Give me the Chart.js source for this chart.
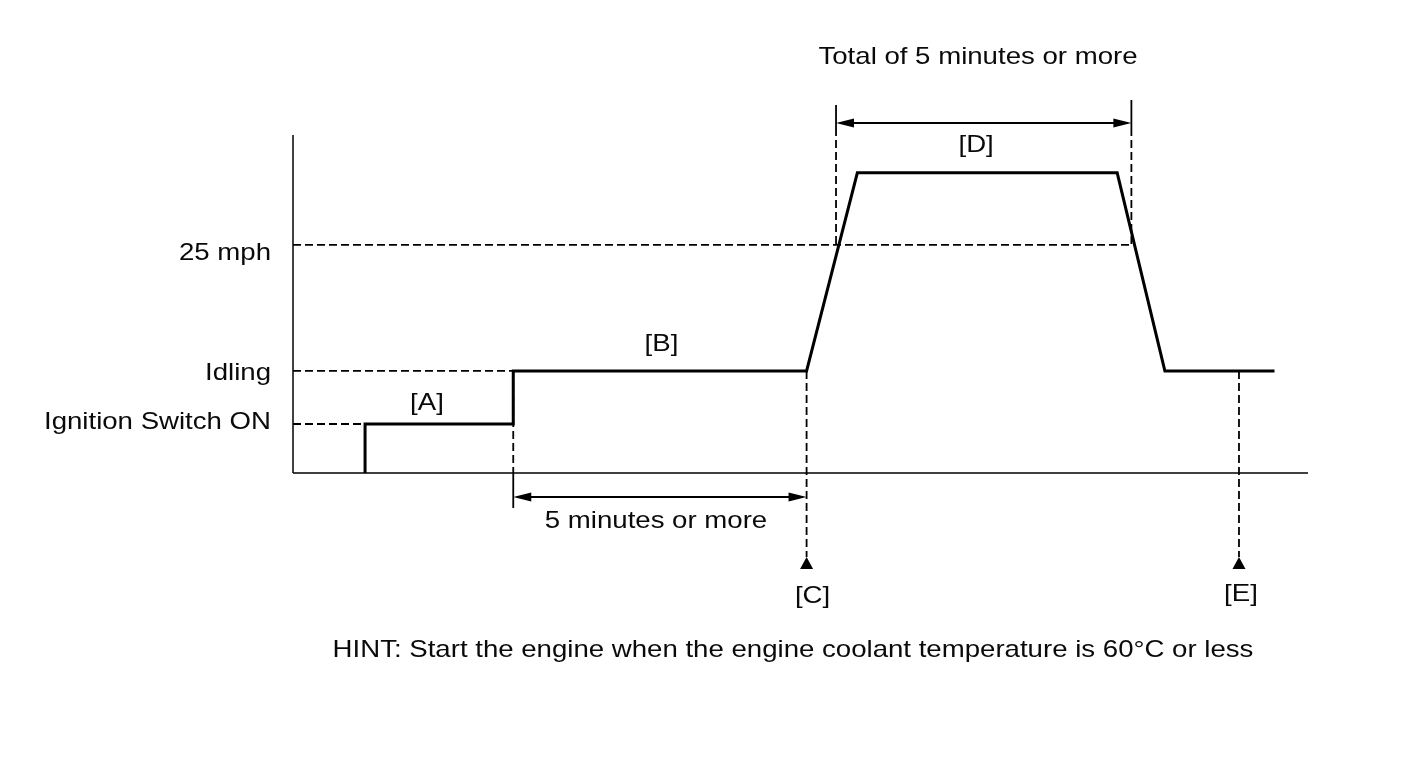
<!DOCTYPE html>
<html>
<head>
<meta charset="utf-8">
<title>Drive pattern</title>
<script src="https://cdn.jsdelivr.net/npm/chart.js@4"></script>
<style>
  html, body { margin: 0; padding: 0; background: #fff; }
  #wrap { width: 1424px; height: 759px; }
</style>
</head>
<body>
<div id="wrap"><canvas id="chart" width="1424" height="759"></canvas></div>
<script>
// Drive pattern diagram: vehicle speed level over time (schematic, no numeric ticks)

// profile of the drive (time units 0-100, level units 0-100)
const profileTime = [7.1, 7.1, 21.7, 21.7, 50.6, 55.6, 81.2, 85.9, 96.7];
const profileLevel = [0, 14.5, 14.5, 30.2, 30.2, 88.8, 88.8, 30.2, 30.2];

// y-axis reference levels and where their dashed guide stops
const levelNames = ["Ignition Switch ON", "Idling", "25 mph"];
const levelValues = [14.5, 30.2, 67.5];
const levelGuideEnd = [7.1, 21.7, 82.6];

// time markers
const idleStart = 21.7;     // start of [B] / 5 minutes span
const checkC = 50.6;        // [C]
const checkE = 93.2;        // [E]
const spanD = [53.5, 82.6]; // [D], total of 5 minutes or more

const phaseLabels = ["[A]", "[B]", "[D]"];
const titleText = "Total of 5 minutes or more";
const spanBText = "5 minutes or more";
const hintText = "HINT: Start the engine when the engine coolant temperature is 60\u00B0C or less";

const FONT = '24px "Liberation Sans", Arial, sans-serif';
const STRETCH = 1.15; // reference lettering is wider than Arial

function arrowHead(ctx, x, y, dir) {
  ctx.beginPath();
  ctx.moveTo(x, y);
  ctx.lineTo(x - dir * 18, y - 4.5);
  ctx.lineTo(x - dir * 18, y + 4.5);
  ctx.closePath();
  ctx.fill();
}

function triangleUp(ctx, x, tipY) {
  ctx.beginPath();
  ctx.moveTo(x, tipY);
  ctx.lineTo(x - 6.5, tipY + 12);
  ctx.lineTo(x + 6.5, tipY + 12);
  ctx.closePath();
  ctx.fill();
}

function line(ctx, x1, y1, x2, y2, width, dash) {
  ctx.save();
  ctx.lineWidth = width;
  ctx.setLineDash(dash || []);
  ctx.beginPath();
  ctx.moveTo(x1, y1);
  ctx.lineTo(x2, y2);
  ctx.stroke();
  ctx.restore();
}

function text(ctx, str, x, y, align) {
  ctx.save();
  ctx.textAlign = align || "center";
  ctx.translate(x, y);
  ctx.scale(STRETCH, 1);
  ctx.fillText(str, 0, 0);
  ctx.restore();
}

const diagram = {
  id: "diagram",
  beforeDatasetsDraw(chart) {
    const { ctx, chartArea: a, scales } = chart;
    const X = (v) => scales.x.getPixelForValue(v);
    const Y = (v) => scales.y.getPixelForValue(v);
    const dash = [8, 4];
    ctx.save();
    ctx.strokeStyle = "#000";
    // axes
    line(ctx, a.left, a.top, a.left, a.bottom, 1.5);
    line(ctx, a.left, a.bottom, a.right, a.bottom, 1.5);
    // level guides
    levelValues.forEach((v, i) => line(ctx, a.left, Y(v), X(levelGuideEnd[i]), Y(v), 1.8, dash));
    // vertical guides
    line(ctx, X(idleStart), Y(levelValues[1]), X(idleStart), a.bottom, 1.8, dash);
    line(ctx, X(idleStart), a.bottom, X(idleStart), a.bottom + 35, 1.8);
    line(ctx, X(checkC), Y(levelValues[1]), X(checkC), a.bottom + 84, 1.8, dash);
    line(ctx, X(checkE), Y(levelValues[1]), X(checkE), a.bottom + 84, 1.8, dash);
    // extension lines of [D]
    line(ctx, X(spanD[0]), a.top - 30, X(spanD[0]), a.top - 7, 1.8);
    line(ctx, X(spanD[0]), a.top - 7, X(spanD[0]), Y(levelValues[2]), 1.8, dash);
    line(ctx, X(spanD[1]), a.top - 35, X(spanD[1]), a.top - 7, 1.8);
    line(ctx, X(spanD[1]), a.top - 7, X(spanD[1]), Y(levelValues[2]), 1.8, dash);
    ctx.restore();
  },
  afterDatasetsDraw(chart) {
    const { ctx, chartArea: a, scales } = chart;
    const X = (v) => scales.x.getPixelForValue(v);
    const Y = (v) => scales.y.getPixelForValue(v);
    ctx.save();
    ctx.strokeStyle = "#000";
    ctx.fillStyle = "#000";

    // dimension arrows
    const yB = a.bottom + 24;
    line(ctx, X(idleStart) + 4, yB, X(checkC) - 4, yB, 2);
    arrowHead(ctx, X(idleStart), yB, -1);
    arrowHead(ctx, X(checkC), yB, 1);
    const yD = a.top - 12;
    line(ctx, X(spanD[0]) + 4, yD, X(spanD[1]) - 4, yD, 2);
    arrowHead(ctx, X(spanD[0]), yD, -1);
    arrowHead(ctx, X(spanD[1]), yD, 1);

    // check point markers
    triangleUp(ctx, X(checkC), a.bottom + 84);
    triangleUp(ctx, X(checkE), a.bottom + 84);

    // text
    ctx.font = FONT;
    ctx.fillStyle = "#0a0a0a";
    ctx.textBaseline = "alphabetic";
    const levelOffsets = [5, 9, 15];
    levelNames.forEach((n, i) => text(ctx, n, a.left - 22, Y(levelValues[i]) + levelOffsets[i], "right"));

    text(ctx, phaseLabels[0], X(13.2), Y(levelValues[0]) - 14);
    text(ctx, phaseLabels[1], X(36.3), Y(levelValues[1]) - 20);
    text(ctx, phaseLabels[2], X(67.3), Y(88.8) - 21);
    text(ctx, titleText, 978, 64);
    text(ctx, spanBText, 656, a.bottom + 55);
    text(ctx, "[C]", X(checkC) + 6, a.bottom + 130);
    text(ctx, "[E]", X(checkE) + 2, a.bottom + 128);
    text(ctx, hintText, 793, 657);
    ctx.restore();
  }
};

new Chart(document.getElementById("chart"), {
  type: "scatter",
  data: {
    datasets: [{
      data: profileTime.map((t, i) => ({ x: t, y: profileLevel[i] })),
      showLine: true,
      borderColor: "#000",
      borderWidth: 3,
      borderJoinStyle: "miter",
      pointRadius: 0,
      fill: false,
      tension: 0
    }]
  },
  options: {
    responsive: false,
    animation: false,
    layout: { padding: { left: 293, right: 116, top: 135, bottom: 286 } },
    plugins: { legend: { display: false }, tooltip: { enabled: false } },
    scales: {
      x: { type: "linear", min: 0, max: 100, display: false },
      y: { type: "linear", min: 0, max: 100, display: false }
    }
  },
  plugins: [diagram]
});
</script>
</body>
</html>
